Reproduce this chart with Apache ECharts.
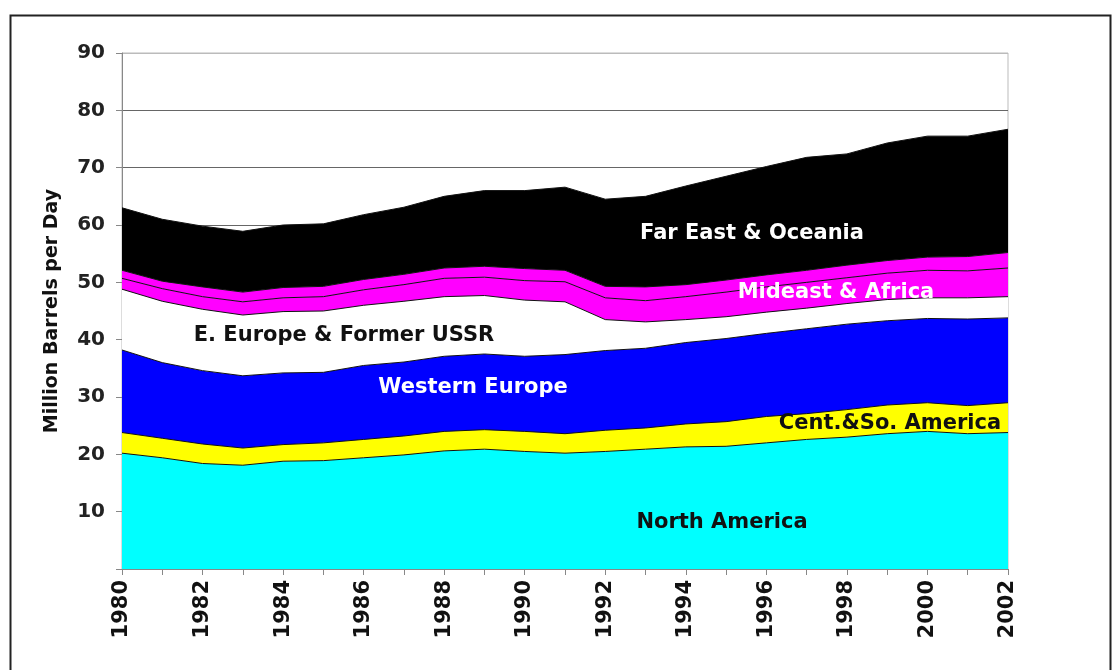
<!DOCTYPE html>
<html>
<head>
<meta charset="utf-8">
<script src="https://cdn.jsdelivr.net/npm/echarts@6/dist/echarts.min.js"></script>
<style>
html,body{margin:0;padding:0;background:#fff;}
#chart{width:1115px;height:670px;}
</style>
</head>
<body>
<div id="chart"></div>
<script>
const years = ['1980','1981','1982','1983','1984','1985','1986','1987','1988','1989','1990','1991','1992','1993','1994','1995','1996','1997','1998','1999','2000','2001','2002'];
const northAmerica = [20.2,19.4,18.4,18.1,18.8,18.9,19.4,19.9,20.6,20.9,20.5,20.2,20.5,20.9,21.3,21.4,22.0,22.6,23.0,23.6,24.0,23.6,23.8];
const centSoAmerica = [3.6,3.4,3.4,3.0,2.9,3.1,3.2,3.3,3.4,3.4,3.5,3.4,3.7,3.7,4.0,4.3,4.6,4.5,4.8,5.0,5.0,4.9,5.2];
const westernEurope = [14.4,13.2,12.8,12.6,12.5,12.3,12.9,12.9,13.1,13.2,13.1,13.8,13.9,13.9,14.2,14.5,14.5,14.8,14.9,14.7,14.7,15.1,14.8];
const eEuropeUSSR = [10.6,10.7,10.7,10.6,10.7,10.7,10.5,10.6,10.4,10.2,9.8,9.2,5.4,4.6,4.0,3.8,3.7,3.6,3.6,3.7,3.6,3.7,3.7];
const middleEast = [1.9,2.2,2.2,2.3,2.4,2.5,2.7,2.9,3.2,3.2,3.4,3.5,3.8,3.7,4.0,4.3,4.4,4.5,4.5,4.6,4.8,4.7,5.0];
const africa = [1.4,1.3,1.7,1.7,1.8,1.8,1.8,1.8,1.8,1.9,2.1,2.0,2.0,2.4,2.1,2.1,2.1,2.1,2.2,2.2,2.3,2.5,2.7];
const farEastOceania = [10.9,10.8,10.6,10.6,10.9,10.9,11.3,11.7,12.5,13.2,13.6,14.5,15.2,15.8,17.2,18.1,18.9,19.7,19.4,20.5,21.1,21.0,21.5];
const yTicks = [0,10,20,30,40,50,60,70,80,90];

const FONT = '"DejaVu Sans", sans-serif';

const seriesDefs = [
  {name:'North America', data:northAmerica, color:'#00FFFF'},
  {name:'Cent.&So. America', data:centSoAmerica, color:'#FFFF00'},
  {name:'Western Europe', data:westernEurope, color:'#0000FF'},
  {name:'E. Europe & Former USSR', data:eEuropeUSSR, color:'#FFFFFF'},
  {name:'Middle East', data:middleEast, color:'#FF00FF'},
  {name:'Africa', data:africa, color:'#FF00FF'},
  {name:'Far East & Oceania', data:farEastOceania, color:'#000000'}
];

const chart = echarts.init(document.getElementById('chart'), null, {renderer:'canvas'});

const labelDefs = [
  {text:'Far East & Oceania', x:752, y:234, color:'#fff'},
  {text:'Mideast & Africa', x:836, y:293, color:'#fff'},
  {text:'E. Europe & Former USSR', x:344, y:336, color:'#111'},
  {text:'Western Europe', x:473, y:388, color:'#fff'},
  {text:'Cent.&So. America', x:890, y:424, color:'#111'},
  {text:'North America', x:722, y:523, color:'#111'}
];

chart.setOption({
  animation:false,
  backgroundColor:'#fff',
  grid:{left:122, right:107, top:53, bottom:101, show:true, borderColor:'#bbb', borderWidth:1, backgroundColor:'transparent'},
  xAxis:{
    type:'category', data:years, boundaryGap:false,
    axisLine:{show:true, lineStyle:{color:'#888', width:1}},
    axisTick:{show:true, interval:0, length:6, lineStyle:{color:'#888'}},
    axisLabel:{interval:1, rotate:90, margin:11, fontFamily:FONT, fontWeight:'bold', fontSize:21, color:'#111'},
    splitLine:{show:false}
  },
  yAxis:{
    type:'value', min:yTicks[0], max:yTicks[yTicks.length-1], interval:10,
    name:'Million Barrels per Day', nameLocation:'middle', nameGap:60, nameRotate:90,
    nameTextStyle:{fontFamily:FONT, fontWeight:'bold', fontSize:19, color:'#111'},
    axisLine:{show:true, lineStyle:{color:'#888', width:1}},
    axisTick:{show:true, length:6, lineStyle:{color:'#888'}},
    axisLabel:{margin:17, fontFamily:FONT, fontWeight:'bold', fontSize:20, color:'#222',
      formatter:function(v){return v===0?'':String(v);}},
    splitLine:{show:true, lineStyle:{color:['#666','#666','#666','#666','#666','#666','#666','#666','#666','#bbb'], width:1}}
  },
  series: seriesDefs.map(function(s){
    return {
      name:s.name, type:'line', stack:'total', data:s.data,
      symbol:'none', smooth:false,
      lineStyle:{color:'#111', width:1},
      itemStyle:{color:s.color},
      areaStyle:{color:s.color, opacity:1}
    };
  }),
  graphic:[
    {type:'rect', left:8, top:13, shape:{width:1100, height:700}, style:{fill:'none', stroke:'#222', lineWidth:2}, silent:true, z:100}
  ].concat(labelDefs.map(function(l){
    return {type:'text', x:l.x, y:l.y, z:100, style:{text:l.text, fill:l.color, font:'bold 21px ' + FONT, textAlign:'center', textVerticalAlign:'middle'}};
  }))
});
</script>
</body>
</html>
